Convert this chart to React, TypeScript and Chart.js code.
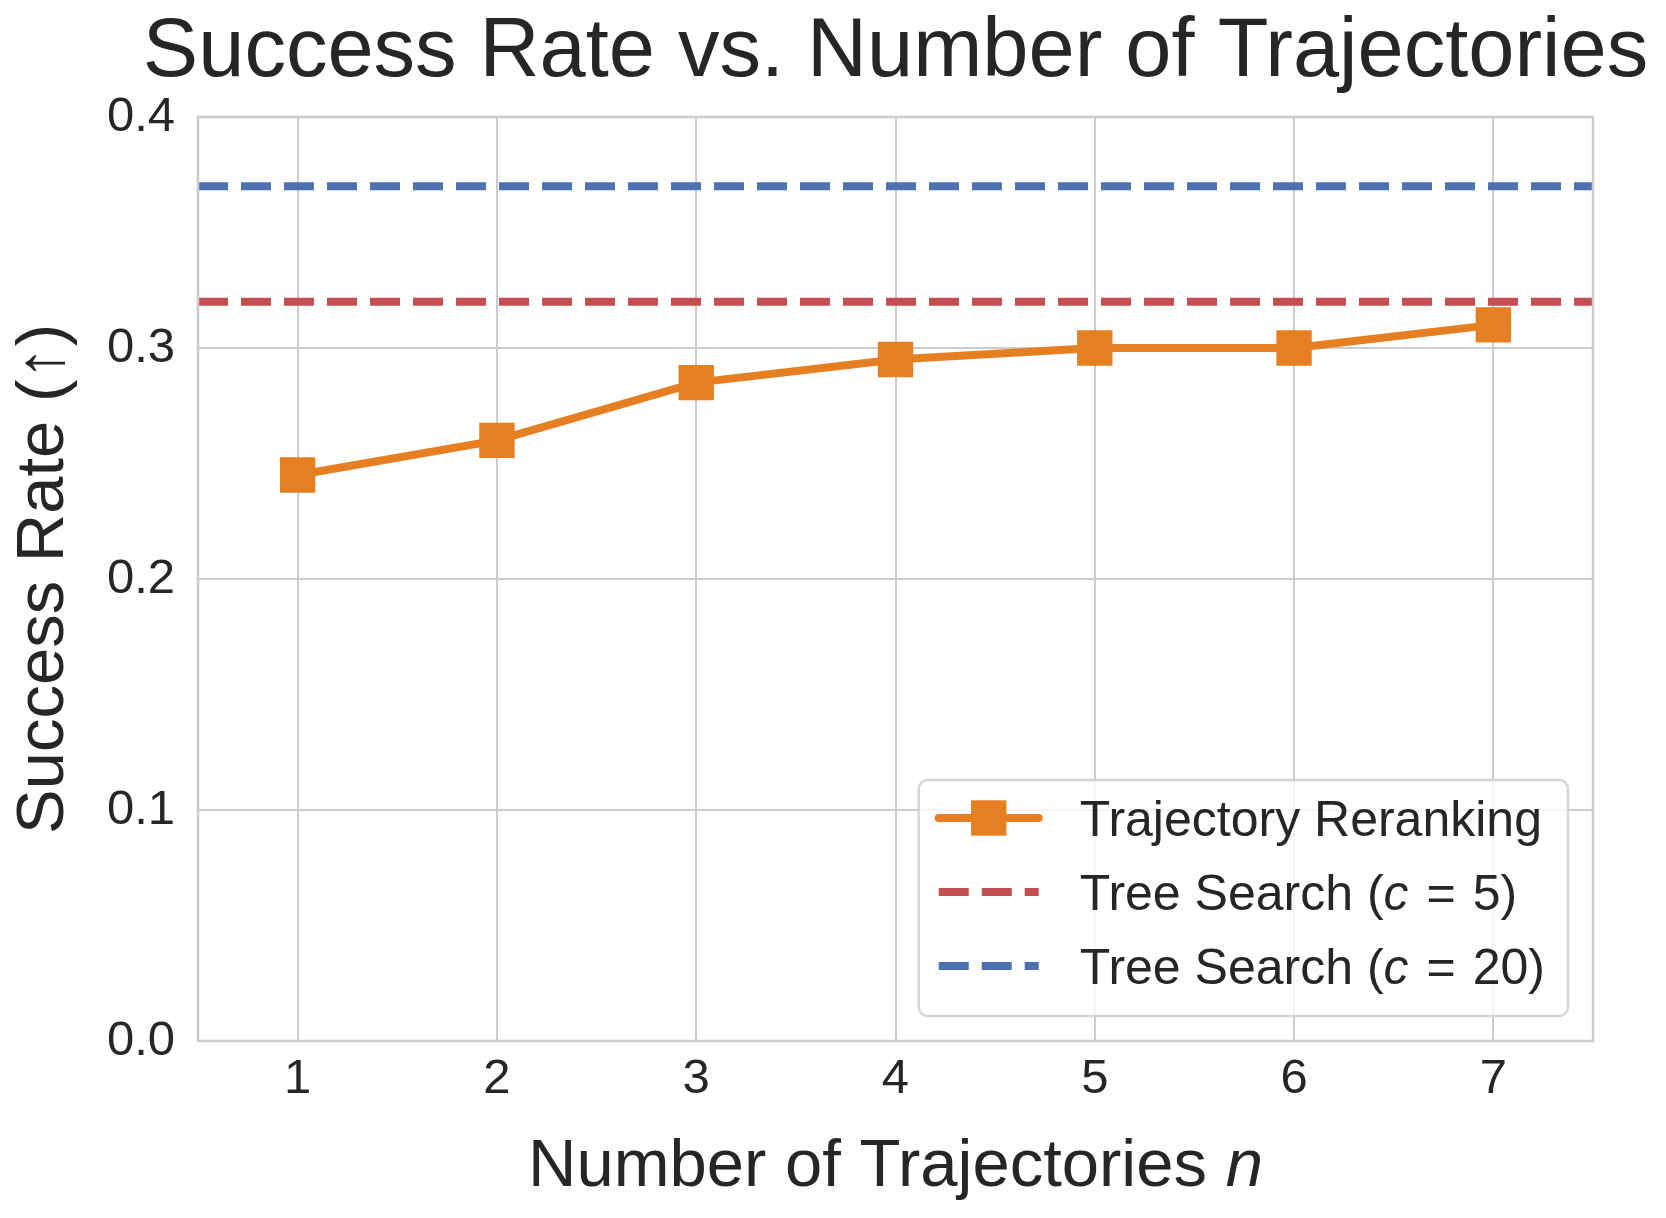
import { useEffect, useRef } from "react"
import { Chart, registerables } from "chart.js"

Chart.register(...registerables)

// data
const trajectories = [1, 2, 3, 4, 5, 6, 7]
const rerankRate = [0.245, 0.26, 0.285, 0.295, 0.3, 0.3, 0.31]
const treeSearchC5 = 0.32
const treeSearchC20 = 0.37
const xRange = [0.5, 7.5]
const yTicks = [0, 0.1, 0.2, 0.3, 0.4]
const seriesLabels = ["Trajectory Reranking", "Tree Search ($c$ = 5)", "Tree Search ($c$ = 20)"]
const chartTitle = "Success Rate vs. Number of Trajectories"
const xTitle = "Number of Trajectories $n$"
const yTitle = "Success Rate (\u2191)"

const FONT = '"Liberation Sans", Arial, Helvetica, sans-serif'
const TEXT = "#262626"
const GRID = "#cccccc"
const ORANGE = "#E67E22"
const RED = "#C44E52"
const BLUE = "#4C72B0"

// "$x$" parts are drawn in italics, like matplotlib mathtext;
// " = " gets the wider spacing mathtext gives relations
type Part = { text: string, italic: boolean, gap: number }

const richParts = (s: string, size: number) => {
    const out: Part[] = []
    s.split("$").forEach((t, i) => {
        if (!t) return
        if (i % 2 === 1) {
            out.push({ text: t, italic: true, gap: 0 })
            return
        }
        t.split(" = ").forEach((piece, j) => {
            if (j > 0) out.push({ text: "=", italic: false, gap: 0.36 * size })
            if (piece) out.push({ text: piece, italic: false, gap: j > 0 ? 0.34 * size : 0 })
        })
    })
    return out
}

const fontOf = (size: number, italic: boolean) => `${italic ? "italic " : ""}${size}px ${FONT}`

const richWidth = (ctx: CanvasRenderingContext2D, s: string, size: number) => {
    let w = 0
    for (const p of richParts(s, size)) {
        ctx.font = fontOf(size, p.italic)
        w += p.gap + ctx.measureText(p.text).width
    }
    return w
}

const drawRich = (ctx: CanvasRenderingContext2D, s: string, x: number, y: number, size: number, align: "left" | "center") => {
    let cx = align === "center" ? x - richWidth(ctx, s, size) / 2 : x
    ctx.textAlign = "left"
    ctx.textBaseline = "alphabetic"
    ctx.fillStyle = TEXT
    for (const p of richParts(s, size)) {
        ctx.font = fontOf(size, p.italic)
        cx += p.gap
        ctx.fillText(p.text, cx, y)
        cx += ctx.measureText(p.text).width
    }
}

const decorPlugin = {
    id: "decor",
    afterDatasetsDraw(chart: any) {
        const { ctx, chartArea: a } = chart
        ctx.save()
        ctx.strokeStyle = GRID
        ctx.lineWidth = 2.5
        ctx.strokeRect(a.left, a.top, a.right - a.left, a.bottom - a.top)
        ctx.restore()
    },
    afterDraw(chart: any) {
        const { ctx, chartArea: a } = chart
        ctx.save()

        // titles
        drawRich(ctx, chartTitle, (a.left + a.right) / 2, 76, 83, "center")
        drawRich(ctx, xTitle, (a.left + a.right) / 2, 1186, 67, "center")
        ctx.save()
        ctx.translate(63, (a.top + a.bottom) / 2)
        ctx.rotate(-Math.PI / 2)
        drawRich(ctx, yTitle, 0, 0, 67, "center")
        ctx.restore()

        // legend, lower right inside the axes
        const size = 50
        const rowGap = 74
        const handle = 100
        const maxText = Math.max(...seriesLabels.map(l => richWidth(ctx, l, size)))
        const w = 20 + handle + 41 + maxText + 23
        const h = 38 + rowGap * (seriesLabels.length - 1) + 50
        const right = a.right - 25
        const bottom = a.bottom - 25
        const left = right - w
        const top = bottom - h

        ctx.beginPath()
        ctx.roundRect(left, top, w, h, 9)
        ctx.fillStyle = "rgba(255,255,255,0.8)"
        ctx.fill()
        ctx.strokeStyle = "rgba(204,204,204,0.8)"
        ctx.lineWidth = 2.5
        ctx.stroke()

        chart.data.datasets.forEach((ds: any, i: number) => {
            const cy = top + 38 + i * rowGap
            const x0 = left + 20
            ctx.save()
            ctx.strokeStyle = ds.borderColor
            ctx.lineWidth = ds.borderWidth
            ctx.setLineDash(ds.borderDash || [])
            ctx.lineCap = ds.borderDash ? "butt" : "round"
            ctx.beginPath()
            ctx.moveTo(x0, cy)
            ctx.lineTo(x0 + handle, cy)
            ctx.stroke()
            if (ds.pointRadius > 0) {
                const s = ds.pointRadius * Math.SQRT1_2
                ctx.fillStyle = ds.pointBackgroundColor
                ctx.fillRect(x0 + handle / 2 - s, cy - s, 2 * s, 2 * s)
            }
            ctx.restore()
            drawRich(ctx, seriesLabels[i], x0 + handle + 41, cy + size * 0.358, size, "left")
        })

        ctx.restore()
    }
}

const App = () => {
    const canvasRef = useRef<HTMLCanvasElement | null>(null)

    useEffect(() => {
        document.body.style.margin = "0"
        if (!canvasRef.current) return

        const flat = (v: number) => xRange.map(x => ({ x, y: v }))

        const myChart = new Chart(canvasRef.current, {
            type: "line",
            data: {
                datasets: [
                    {
                        label: seriesLabels[0],
                        data: trajectories.map((x, i) => ({ x, y: rerankRate[i] })),
                        borderColor: ORANGE,
                        backgroundColor: ORANGE,
                        borderWidth: 8,
                        pointStyle: "rect",
                        pointRadius: 25,
                        pointHoverRadius: 25,
                        pointBackgroundColor: ORANGE,
                        pointBorderWidth: 0,
                        order: 0
                    },
                    {
                        label: seriesLabels[1],
                        data: flat(treeSearchC5),
                        borderColor: RED,
                        borderWidth: 8,
                        borderDash: [30, 13],
                        pointRadius: 0,
                        order: 1
                    },
                    {
                        label: seriesLabels[2],
                        data: flat(treeSearchC20),
                        borderColor: BLUE,
                        borderWidth: 8,
                        borderDash: [30, 13],
                        pointRadius: 0,
                        order: 2
                    }
                ] as any
            },
            options: {
                animation: false,
                responsive: true,
                maintainAspectRatio: false,
                layout: { padding: { left: 0, right: 73, top: 117, bottom: 0 } },
                plugins: {
                    legend: { display: false },
                    title: { display: false },
                    tooltip: { enabled: false }
                },
                scales: {
                    x: {
                        type: "linear",
                        min: xRange[0],
                        max: xRange[1],
                        afterBuildTicks: (scale: any) => {
                            scale.ticks = trajectories.map(v => ({ value: v }))
                        },
                        afterFit: (scale: any) => {
                            scale.height = 177
                        },
                        grid: { color: GRID, lineWidth: 2, drawTicks: false },
                        border: { display: false },
                        ticks: {
                            color: TEXT,
                            font: { family: FONT, size: 49 },
                            padding: 9,
                            maxRotation: 0,
                            autoSkip: false
                        }
                    },
                    y: {
                        min: yTicks[0],
                        max: yTicks[yTicks.length - 1],
                        afterBuildTicks: (scale: any) => {
                            scale.ticks = yTicks.map(v => ({ value: v }))
                        },
                        afterFit: (scale: any) => {
                            scale.width = 198
                        },
                        grid: { color: GRID, lineWidth: 2, drawTicks: false },
                        border: { display: false },
                        ticks: {
                            color: TEXT,
                            font: { family: FONT, size: 49 },
                            padding: 23,
                            callback: (v: any) => Number(v).toFixed(1)
                        }
                    }
                }
            },
            plugins: [decorPlugin]
        })

        return () => {
            myChart.destroy()
        }
    }, [])

    return (
        <div style={{ width: 1666, height: 1218, position: "relative", background: "#fff" }}>
            <canvas ref={canvasRef}></canvas>
        </div>
    )
}

export default App
